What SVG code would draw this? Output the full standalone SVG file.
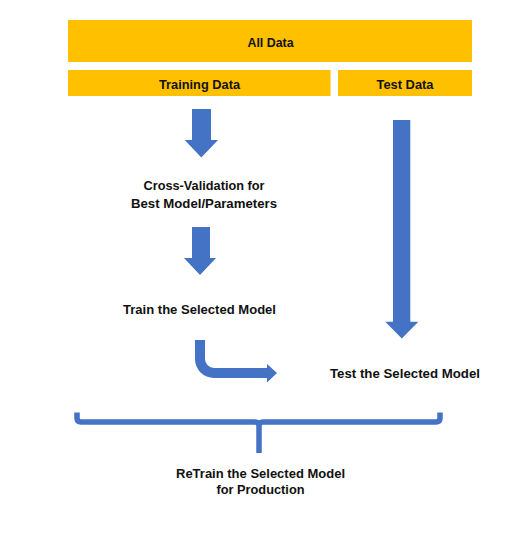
<svg xmlns="http://www.w3.org/2000/svg" width="513" height="541" viewBox="0 0 513 541">
<style>
.box{fill:#FFC000;}
.arr{fill:#4472C4;}
.brace{fill:none;stroke:#4472C4;stroke-width:5.5;stroke-linejoin:round;}
text{font-family:"Liberation Sans",Arial,sans-serif;font-weight:bold;font-size:13.5px;fill:#111;text-anchor:middle;}
</style>
<rect width="513" height="541" fill="#fff"/>
<g id="all-data">
<rect class="box" x="68" y="20" width="404" height="42"/>
<text x="270.5" y="47" textLength="46" lengthAdjust="spacingAndGlyphs">All Data</text>
</g>
<g id="training-data">
<rect class="box" x="68" y="70" width="262.5" height="26"/>
<text x="199.5" y="89" textLength="81" lengthAdjust="spacingAndGlyphs">Training Data</text>
</g>
<g id="test-data">
<rect class="box" x="338" y="70" width="134" height="26"/>
<text x="405" y="89" textLength="57" lengthAdjust="spacingAndGlyphs">Test Data</text>
</g>
<g id="cross-validation">
<text x="204" y="190" textLength="121" lengthAdjust="spacingAndGlyphs">Cross-Validation for</text>
<text x="204" y="207.5" textLength="146" lengthAdjust="spacingAndGlyphs">Best Model/Parameters</text>
</g>
<g id="train-selected">
<text x="199.5" y="314" textLength="153" lengthAdjust="spacingAndGlyphs">Train the Selected Model</text>
</g>
<g id="test-selected">
<text x="405" y="378" textLength="150" lengthAdjust="spacingAndGlyphs">Test the Selected Model</text>
</g>
<g id="retrain">
<text x="260.5" y="477.5" textLength="169" lengthAdjust="spacingAndGlyphs">ReTrain the Selected Model</text>
<text x="260.5" y="494" textLength="88" lengthAdjust="spacingAndGlyphs">for Production</text>
</g>
<g id="connectors">
<path class="arr" d="M192,109 H211 V140 H218 L201.3,157.5 L184.7,140 H192 Z"/>
<path class="arr" d="M192,227 H210 V258 H216 L200,275 L184,258 H192 Z"/>
<path class="arr" d="M393,120 H410.3 V321.7 H418.3 L401.8,338.5 L385.3,321.7 H393 Z"/>
<path class="arr" d="M195,340 H205 V359 A9,9 0 0 0 214,368 H267 V364 L277,373 L267,382.5 V378 H214 A19,19 0 0 1 195,359 Z"/>
<path class="brace" d="M77,412.5 V418 Q77,422 81,422 H255 Q259,422 259,426 V453 M259,426 Q259,422 263,422 H436 Q440,422 440,418 V412.5"/>
</g>
</svg>
